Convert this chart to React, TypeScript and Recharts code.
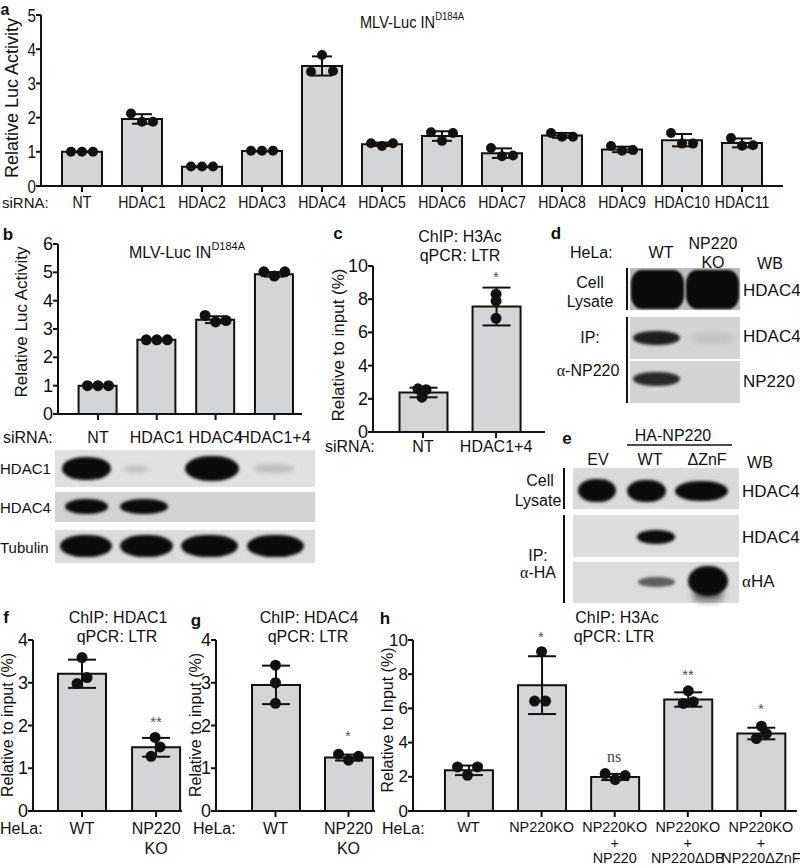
import React from 'react';
import { ComposedChart, Bar, Scatter, XAxis, YAxis, ErrorBar } from 'recharts';

const SANS = "'Liberation Sans', Arial, Helvetica, sans-serif";
const SERIF = "'Liberation Serif', 'Times New Roman', serif";

// a: siRNA screen, MLV-Luc IN D184A
const aSirna = ['NT', 'HDAC1', 'HDAC2', 'HDAC3', 'HDAC4', 'HDAC5', 'HDAC6', 'HDAC7', 'HDAC8', 'HDAC9', 'HDAC10', 'HDAC11'];
const aMean = [1.0, 1.96, 0.56, 1.02, 3.51, 1.22, 1.46, 0.96, 1.48, 1.07, 1.34, 1.26];
const aSd = [0.01, 0.14, 0.01, 0.01, 0.28, 0.05, 0.14, 0.14, 0.07, 0.08, 0.18, 0.13];
const aReps = [
  [1, 1, 1], [2.12, 1.88, 1.88], [0.57, 0.57, 0.57], [1.03, 1.03, 1.03],
  [3.34, 3.83, 3.36], [1.25, 1.17, 1.25], [1.57, 1.32, 1.55], [1.11, 0.87, 0.89],
  [1.55, 1.44, 1.44], [1.17, 1.03, 1.05], [1.55, 1.24, 1.24], [1.4, 1.18, 1.19],
];

// b: HDAC1 / HDAC4 knockdown
const bSirna = ['NT', 'HDAC1', 'HDAC4', 'HDAC1+4'];
const bMean = [1.0, 2.62, 3.33, 4.93];
const bSd = [0.01, 0.01, 0.12, 0.08];
const bReps = [[1, 1, 1], [2.62, 2.62, 2.62], [3.48, 3.25, 3.3], [5.02, 4.87, 5.02]];

// c: ChIP H3Ac after knockdown
const cSirna = ['NT', 'HDAC1+4'];
const cMean = [2.38, 7.56];
const cSd = [0.29, 1.14];
const cReps = [[2.6, 2.1, 2.55], [8.3, 7.9, 6.85]];

// f, g: ChIP HDAC1 / HDAC4 in WT vs NP220 KO
const fgHela = ['WT', 'NP220\nKO'];
const fMean = [3.21, 1.49];
const fSd = [0.33, 0.22];
const fReps = [[3.59, 3.12, 2.98], [1.72, 1.5, 1.28]];
const gMean = [2.95, 1.25];
const gSd = [0.45, 0.07];
const gReps = [[3.41, 3.0, 2.52], [1.33, 1.19, 1.28]];

// h: ChIP H3Ac with rescue constructs
const hHela = ['WT', 'NP220KO', 'NP220KO\n+\nNP220', 'NP220KO\n+\nNP220ΔDB', 'NP220KO\n+\nNP220ΔZnF'];
const hMean = [2.38, 7.36, 1.99, 6.52, 4.53];
const hSd = [0.28, 1.69, 0.18, 0.42, 0.34];
const hReps = [[2.58, 2.09, 2.58], [9.32, 6.43, 6.43], [2.19, 1.84, 2.07], [7.03, 6.29, 6.39], [4.96, 4.24, 4.53]];

const span = (n: number, step: number) => Array.from({ length: Math.round(n / step) + 1 }, (_, i) => i * step);

type PanelProps = {
  axisX: number; topY: number; zeroY: number; endX: number;
  domainX: [number, number]; yMax: number; yStep: number;
  cats: string[]; means: number[]; sds: number[]; reps: number[][]; jit: number[][];
  barSize: number; cap: number; r: number;
  yFont: number; xFont: number; labelY: number; lineH: number; squeeze?: number; xSqueeze?: number;
};

function BarPanel(p: PanelProps) {
  const YW = 60, MT = 10, MR = 12, XH = 70;
  const plotW = p.endX - p.axisX;
  const plotH = p.zeroY - p.topY;
  const pxPerX = plotW / (p.domainX[1] - p.domainX[0]);
  const sq = p.squeeze ?? 1;
  const xsq = p.xSqueeze ?? sq;
  const rows = p.cats.map((c, i) => ({ x: i, mean: p.means[i], sd: p.sds[i] }));
  const pts = p.reps.flatMap((rr, i) => rr.map((v, k) => ({ x: i + p.jit[i][k] / pxPerX, v })));
  const ticksX = p.cats.map((_, i) => i);
  const axisYInChart = MT + plotH;

  const CatTick = (t: any) => {
    const lines = p.cats[t.payload.value].split('\n');
    const y0 = axisYInChart + (p.labelY - p.zeroY);
    return (
      <g transform={`translate(${t.x},${y0}) scale(${xsq},1)`}>
        {lines.map((l, k) => (
          <text key={k} x={0} y={k * p.lineH} textAnchor="middle" dominantBaseline="central"
            fontSize={p.xFont} fontFamily={SANS} fill="#111">{l}</text>
        ))}
      </g>
    );
  };
  // label sits just left of the tick mark
  const NumTick = (t: any) => (
    <g transform={`translate(${YW - 5},${t.y}) scale(${sq},1)`}>
      <text x={0} y={0} textAnchor="end" dominantBaseline="central" fontSize={p.yFont} fontFamily={SANS} fill="#111">
        {t.payload.value}
      </text>
    </g>
  );

  return (
    <div style={{ position: 'absolute', left: p.axisX - YW, top: p.topY - MT }}>
      <ComposedChart width={YW + plotW + MR} height={MT + plotH + XH} data={rows}
        margin={{ top: MT, right: MR, bottom: 0, left: 0 }}>
        <XAxis type="number" dataKey="x" domain={p.domainX} allowDataOverflow ticks={ticksX} interval={0}
          height={XH} tick={<CatTick />} tickSize={6}
          axisLine={{ stroke: '#111', strokeWidth: 2 }} tickLine={{ stroke: '#111', strokeWidth: 2 }} />
        <XAxis xAxisId="pts" type="number" dataKey="x" domain={p.domainX} allowDataOverflow hide />
        <YAxis type="number" domain={[0, p.yMax]} allowDataOverflow ticks={span(p.yMax, p.yStep)} interval={0}
          width={YW} tick={<NumTick />} tickSize={5} tickMargin={0}
          axisLine={{ stroke: '#111', strokeWidth: 2 }} tickLine={{ stroke: '#111', strokeWidth: 2 }} />
        <Bar dataKey="mean" barSize={p.barSize} fill="#d4d5d6" stroke="#111" strokeWidth={2} isAnimationActive={false}>
          <ErrorBar dataKey="sd" width={p.cap} stroke="#111" strokeWidth={2} direction="y" isAnimationActive={false} />
        </Bar>
        <Scatter xAxisId="pts" data={pts} dataKey="v" isAnimationActive={false}
          shape={(s: any) => <circle cx={s.cx} cy={s.cy} r={p.r} fill="#111" />} />
      </ComposedChart>
    </div>
  );
}

const T = ({ x, y, s = 16, a = 'middle', b = false, f = SANS, c = '#111', r = 0, sx = 1, children }: any) => (
  <text x={0} y={0} fontSize={s} textAnchor={a} fontWeight={b ? 700 : 400} fontFamily={f} fill={c}
    dominantBaseline="central" transform={`translate(${x},${y}) rotate(${r}) scale(${sx},1)`}>{children}</text>
);

const Box = ({ x, y, w, h, bg = '#d6d6d6' }: any) => (
  <div style={{ position: 'absolute', left: x, top: y, width: w, height: h, background: bg }} />
);
const Band = ({ x, y, w, h, o = 1, bl = 1.5, rad = '45% / 50%' }: any) => (
  <div style={{
    position: 'absolute', left: x, top: y, width: w, height: h, background: '#0b0b0b',
    borderRadius: rad, opacity: o, filter: `blur(${bl}px)`,
  }} />
);
const VLine = ({ x, y, h }: any) => (
  <div style={{ position: 'absolute', left: x - 1, top: y, width: 2, height: h, background: '#111' }} />
);

const same = (n: number, j: number[]) => Array.from({ length: n }, () => j);

export default function App() {
  return (
    <div style={{ position: 'absolute', left: 0, top: 0, width: 800, height: 867, background: '#fff', overflow: 'hidden' }}>
      <BarPanel axisX={41} topY={15} zeroY={186} endX={783} domainX={[-0.683, 11.683]} yMax={5} yStep={1}
        cats={aSirna} means={aMean} sds={aSd} reps={aReps} jit={same(12, [-11, 0, 11])}
        barSize={40} cap={10} r={5} yFont={19} xFont={16} labelY={202} lineH={16} squeeze={0.8} xSqueeze={0.88} />
      <BarPanel axisX={58} topY={244} zeroY={414} endX={302} domainX={[-0.68, 3.47]} yMax={6} yStep={1}
        cats={bSirna} means={bMean} sds={bSd} reps={bReps} jit={same(4, [-10.5, 0, 10.5])}
        barSize={38} cap={10} r={5.5} yFont={18} xFont={16} labelY={437} lineH={16} />
      <BarPanel axisX={373} topY={266} zeroY={432} endX={545} domainX={[-0.685, 1.67]} yMax={10} yStep={2}
        cats={cSirna} means={cMean} sds={cSd} reps={cReps} jit={[[-5, -1, 3], [0, 0, 0]]}
        barSize={48} cap={14} r={5.5} yFont={18} xFont={16} labelY={446} lineH={16} />
      <BarPanel axisX={33} topY={640} zeroY={811} endX={182} domainX={[-0.662, 1.35]} yMax={4} yStep={1}
        cats={fgHela} means={fMean} sds={fSd} reps={fReps} jit={[[0, 5, -5], [-1, 4, -5]]}
        barSize={48} cap={14} r={5.5} yFont={18} xFont={16} labelY={828} lineH={20} />
      <BarPanel axisX={216} topY={640} zeroY={811} endX={375} domainX={[-0.815, 1.363]} yMax={4} yStep={1}
        cats={fgHela} means={gMean} sds={gSd} reps={gReps} jit={[[0, 0, 0], [-10, 0, 10]]}
        barSize={48} cap={14} r={5.5} yFont={18} xFont={16} labelY={828} lineH={20} />
      <BarPanel axisX={413} topY={640} zeroY={811} endX={797} domainX={[-0.759, 4.494]} yMax={10} yStep={2}
        cats={hHela} means={hMean} sds={hSd} reps={hReps}
        jit={[[-11, -1, 9], [0, -7, 4], [-9.5, 0.5, 10.5], [0.5, -4.5, 5.5], [0.5, -4.5, 5.5]]}
        barSize={48} cap={14} r={5.5} yFont={17} xFont={15} labelY={827} lineH={15.5} xSqueeze={0.96} />

      {/* b blot */}
      <Box x={55} y={450} w={260} h={37} bg="#e0e0e0" />
      <Band x={62} y={457} w={49} h={23} />
      <Band x={123} y={465} w={26} h={8} o={0.12} bl={2} />
      <Band x={185} y={456} w={54} h={25} />
      <Band x={253} y={464} w={42} h={9} o={0.15} bl={2} />
      <Box x={55} y={492} w={260} h={30} bg="#d2d2d2" />
      <Band x={65} y={499} w={43} h={15} />
      <Band x={120} y={499} w={48} h={15} />
      <Box x={55} y={530} w={260} h={33} bg="#dcdcdc" />
      <Band x={60} y={535} w={52} h={22} />
      <Band x={120} y={535} w={53} h={22} />
      <Band x={181} y={535} w={57} h={22} />
      <Band x={247} y={535} w={57} h={22} />

      {/* d blot */}
      <Box x={630} y={268} w={110} h={42} bg="#bdbdbd" />
      <Band x={631} y={270} w={53} h={39} bl={1} rad="20% / 35%" />
      <Band x={686} y={270} w={53} h={39} bl={1} rad="20% / 35%" />
      <Box x={630} y={317} w={110} h={42} bg="#d4d4d4" />
      <Band x={633} y={331} w={47} h={14} o={0.9} />
      <Band x={690} y={332} w={45} h={12} o={0.08} bl={3} />
      <Box x={630} y={361} w={110} h={42} bg="#d4d4d4" />
      <Band x={633} y={372} w={47} h={14} o={0.85} />
      <VLine x={627} y={268} h={42} />
      <VLine x={627} y={317} h={86} />

      {/* e blot */}
      <Box x={573} y={468} w={166} h={41} bg="#dadada" />
      <Band x={578} y={479} w={38} h={23} />
      <Band x={627} y={480} w={39} h={22} />
      <Band x={675} y={481} w={53} h={20} />
      <Box x={573} y={515} w={166} h={42} bg="#dcdcdc" />
      <Band x={637} y={530} w={38} h={14} />
      <Box x={573} y={562} w={166} h={41} bg="#dcdcdc" />
      <Band x={638} y={577} w={37} h={10} o={0.6} />
      <Band x={688} y={566} w={40} h={30} />
      <Band x={692} y={590} w={32} h={12} o={0.5} bl={3} />
      <VLine x={564} y={468} h={41} />
      <VLine x={564} y={515} h={88} />

      <svg width={800} height={867} style={{ position: 'absolute', left: 0, top: 0, pointerEvents: 'none' }}>
        {/* a */}
        <T x={5} y={9} s={16} b>a</T>
        <T x={412} y={22} s={17} sx={0.86}>MLV-Luc IN<tspan fontSize={11} dy={-6}>D184A</tspan></T>
        <T x={12} y={98} s={18} r={-90}>Relative Luc Activity</T>
        <T x={2} y={202} s={15} a="start">siRNA:</T>
        {/* b */}
        <T x={8} y={234} s={17} b>b</T>
        <T x={187} y={252} s={16}>MLV-Luc IN<tspan fontSize={11} dy={-6}>D184A</tspan></T>
        <T x={21} y={322} s={17} r={-90}>Relative Luc Activity</T>
        <T x={3} y={437} s={16} a="start">siRNA:</T>
        <T x={0} y={468} s={15} a="start">HDAC1</T>
        <T x={0} y={507} s={15} a="start">HDAC4</T>
        <T x={0} y={547} s={15} a="start">Tubulin</T>
        {/* c */}
        <T x={338} y={233} s={17} b>c</T>
        <T x={460} y={236} s={16}>ChIP: H3Ac</T>
        <T x={460} y={255} s={16}>qPCR: LTR</T>
        <T x={338} y={345} s={17} r={-90}>Relative to input (%)</T>
        <T x={325} y={446} s={16} a="start">siRNA:</T>
        <T x={496} y={276} s={15} c="#555">*</T>
        {/* d */}
        <T x={556} y={233} s={17} b>d</T>
        <T x={570} y={252} s={16} a="start">HeLa:</T>
        <T x={661} y={252} s={16}>WT</T>
        <T x={713} y={243} s={16}>NP220</T>
        <T x={713} y={262} s={16}>KO</T>
        <T x={770} y={263} s={16}>WB</T>
        <T x={590} y={282} s={16}>Cell</T>
        <T x={590} y={301} s={16}>Lysate</T>
        <T x={743} y={290} s={17} a="start">HDAC4</T>
        <T x={590} y={337} s={16}>IP:</T>
        <T x={588} y={370} s={16}><tspan fontFamily={SERIF}>α</tspan>-NP220</T>
        <T x={743} y={336} s={17} a="start">HDAC4</T>
        <T x={743} y={381} s={17} a="start">NP220</T>
        {/* e */}
        <T x={567} y={438} s={17} b>e</T>
        <T x={673} y={435} s={16}>HA-NP220</T>
        <line x1={627} x2={732} y1={445} y2={445} stroke="#111" strokeWidth={1.5} />
        <T x={598} y={459} s={16}>EV</T>
        <T x={650} y={459} s={16}>WT</T>
        <T x={707} y={459} s={16}>ΔZnF</T>
        <T x={760} y={462} s={16}>WB</T>
        <T x={540} y={480} s={16}>Cell</T>
        <T x={538} y={500} s={16}>Lysate</T>
        <T x={742} y={491} s={17} a="start">HDAC4</T>
        <T x={742} y={537} s={17} a="start">HDAC4</T>
        <T x={742} y={581} s={17} a="start"><tspan fontFamily={SERIF}>α</tspan>HA</T>
        <T x={538} y={555} s={16}>IP:</T>
        <T x={538} y={572} s={16}><tspan fontFamily={SERIF}>α</tspan>-HA</T>
        {/* f */}
        <T x={6} y={617} s={17} b>f</T>
        <T x={118} y={617} s={16}>ChIP: HDAC1</T>
        <T x={117} y={636} s={16}>qPCR: LTR</T>
        <T x={7} y={725} s={16} r={-90}>Relative to input (%)</T>
        <T x={0} y={828} s={16} a="start">HeLa:</T>
        <T x={156} y={721} s={15} c="#555">**</T>
        {/* g */}
        <T x={196} y={620} s={17} b>g</T>
        <T x={309} y={617} s={16}>ChIP: HDAC4</T>
        <T x={308} y={636} s={16}>qPCR: LTR</T>
        <T x={195} y={725} s={16} r={-90}>Relative to input (%)</T>
        <T x={193} y={828} s={16} a="start">HeLa:</T>
        <T x={348} y={735} s={15} c="#555">*</T>
        {/* h */}
        <T x={385} y={618} s={17} b>h</T>
        <T x={617} y={617} s={16}>ChIP: H3Ac</T>
        <T x={614} y={636} s={16}>qPCR: LTR</T>
        <T x={387} y={720} s={16} r={-90}>Relative to Input (%)</T>
        <T x={382} y={828} s={16} a="start">HeLa:</T>
        <T x={541} y={636} s={15} c="#555">*</T>
        <T x={614} y={756} s={16} f={SERIF} c="#444">ns</T>
        <T x={688} y={674} s={15} c="#555">**</T>
        <T x={761} y={708} s={15} c="#555">*</T>
      </svg>
    </div>
  );
}
